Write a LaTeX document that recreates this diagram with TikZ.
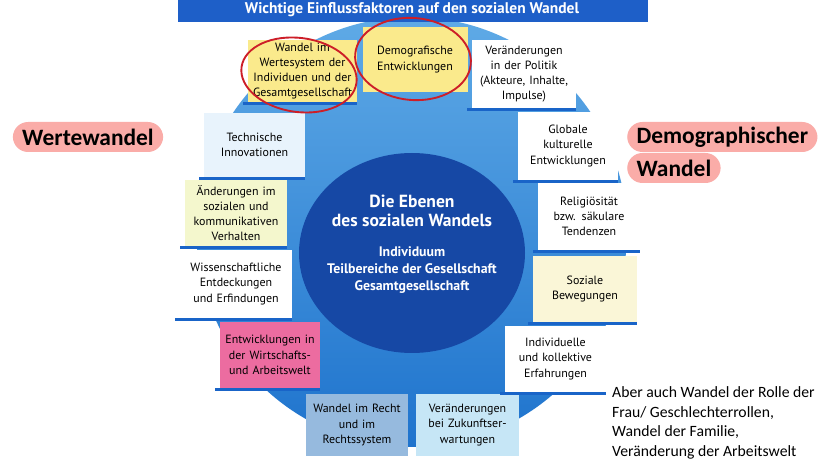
\documentclass[tikz,border=0pt]{standalone}
\usepackage{fontspec}
\setmainfont{PT Sans}
\newfontfamily\notefont{Carlito}
\usetikzlibrary{positioning,shapes.geometric}

\definecolor{ringtop}{RGB}{95,170,230}
\definecolor{ringbot}{RGB}{30,115,205}
\definecolor{coreblue}{RGB}{22,72,165}
\definecolor{bannerblue}{RGB}{30,95,200}
\definecolor{ledgeblue}{RGB}{25,100,200}
\definecolor{boxyellow}{RGB}{250,234,140}
\definecolor{boxpale}{RGB}{250,246,215}
\definecolor{boxgreen}{RGB}{244,247,205}
\definecolor{boxsky}{RGB}{232,243,252}
\definecolor{boxpink}{RGB}{236,108,160}
\definecolor{boxsteel}{RGB}{150,186,222}
\definecolor{boxcyan}{RGB}{198,230,246}
\definecolor{markred}{RGB}{205,30,40}
\definecolor{tagpink}{RGB}{250,172,168}

\tikzset{
  faktor/.style 2 args={minimum width=#1*0.03cm, minimum height=#2*0.03cm,
    text width=(#1-10)*0.03cm, align=center, inner sep=1pt,
    font=\fontsize{10.2}{13}\selectfont},
  ledge/.style={draw=ledgeblue, line width=2pt},
  ring/.style={draw=markred, line width=1.6pt},
  tag/.style={fill=tagpink, rounded corners=13pt, minimum height=0.9cm,
    inner xsep=8pt, font=\notefont\bfseries\fontsize{20}{24}\selectfont}
}

\begin{document}
\begin{tikzpicture}[x=0.03cm,y=-0.03cm]
  \fill[white] (0,0) rectangle (828,460);
  \useasboundingbox (0,0) rectangle (828,460);

  % ring behind the boxes and the core circle
  \shade[top color=ringtop, bottom color=ringbot] (412,232) circle [radius=215];
  \fill[coreblue] (412,253) ellipse [x radius=113, y radius=100];

  % banner
  \fill[bannerblue] (178,-2) rectangle (648,22);
  \node[font=\bfseries\fontsize{13.2}{15}\selectfont, text=white] (titel) at (412,10)
    {Wichtige Einflussfaktoren auf den sozialen Wandel};

  % core
  \node[font=\bfseries\fontsize{15}{16.5}\selectfont, text=white, align=center] (ebenen)
    at (412,211) {Die Ebenen\\des sozialen Wandels};
  \node[font=\bfseries\fontsize{11.8}{14.6}\selectfont, text=white, align=center] (teile)
    at (412,270) {Individuum\\Teilbereiche der Gesellschaft\\Gesamtgesellschaft};

  % the factors, clockwise from the top left
  \node[faktor={109}{62}, fill=boxyellow] (werte) at (302.5,71)
    {Wandel im\\Wertesystem der\\Individuen und der\\Gesamtgesellschaft};
  \node[faktor={105}{65}, fill=boxyellow] (demo) at (415,59.5)
    {Demografische\\Entwicklungen};
  \node[faktor={104}{68}, fill=white] (politik) at (524,74)
    {Veränderungen\\in der Politik\\(Akteure, Inhalte,\\Impulse)};
  \node[faktor={100}{68}, fill=white] (global) at (568,146)
    {Globale\\kulturelle\\Entwicklungen};
  \node[faktor={102}{67}, fill=white] (religion) at (589,216.5)
    {Religiösität\\bzw. säkulare\\Tendenzen};
  \node[faktor={104}{66}, fill=boxpale] (bewegung) at (585,289)
    {Soziale\\Bewegungen};
  \node[faktor={101}{66}, fill=white] (erfahrung) at (555.5,359)
    {Individuelle\\und kollektive\\Erfahrungen};
  \node[faktor={103}{62}, fill=boxcyan] (zukunft) at (467.5,425)
    {Veränderungen\\bei Zukunftser-\\wartungen};
  \node[faktor={102}{62}, fill=boxsteel] (recht) at (357,425)
    {Wandel im Recht\\und im\\Rechtssystem};
  \node[faktor={100}{66}, fill=boxpink] (wirtschaft) at (270,355)
    {Entwicklungen in\\der Wirtschafts-\\und Arbeitswelt};
  \node[faktor={112}{68}, fill=white] (wissen) at (236,284)
    {Wissenschaftliche\\Entdeckungen\\und Erfindungen};
  \node[faktor={102}{66}, fill=boxgreen] (verhalten) at (236,213)
    {Änderungen im\\sozialen und\\kommunikativen\\Verhalten};
  \node[faktor={101}{64}, fill=boxsky] (technik) at (254.5,145)
    {Technische\\Innovationen};

  \foreach \n in {werte,politik,global,religion,bewegung,erfahrung,
                  wirtschaft,wissen,verhalten,technik}
    \draw[ledge] ([xshift=-4pt,yshift=-1pt]\n.south west) -- ([yshift=-1pt]\n.south east);

  % red marks
  \draw[ring, rotate around={-8:(299,75)}] (299,75) ellipse [x radius=58, y radius=37];
  \draw[ring, rotate around={-5:(413,59)}] (413,59) ellipse [x radius=58, y radius=41];

  % notes
  \node[tag] (wertewandel) at (88,137) {Wertewandel};
  \node[tag, anchor=west] (demographisch) at (627,137) {Demographischer};
  \node[tag, anchor=west] (wandel) at (627,168) {Wandel};

  \node[anchor=north west, align=left, inner sep=0pt,
        font=\notefont\fontsize{13.4}{17}\selectfont] (aber) at (612,386)
    {Aber auch Wandel der Rolle der\\Frau/ Geschlechterrollen,\\Wandel der Familie,\\Veränderung der Arbeitswelt};
\end{tikzpicture}
\end{document}
